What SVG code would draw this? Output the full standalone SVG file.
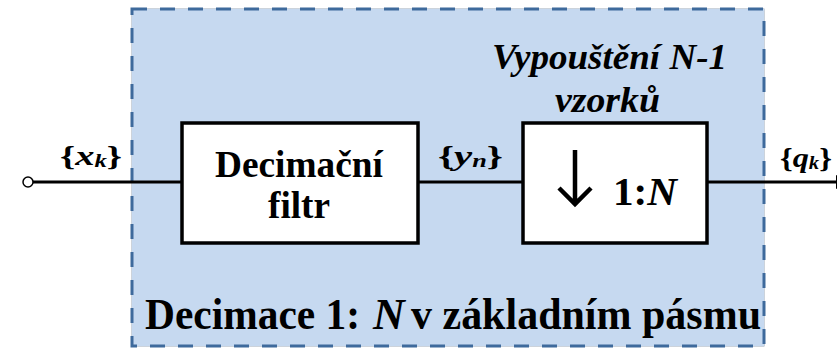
<svg xmlns="http://www.w3.org/2000/svg" width="837" height="348" viewBox="0 0 837 348">
  <style>
    .frame { fill: #c6d9f0; stroke: #3e6a9c; stroke-width: 3; stroke-dasharray: 15 13; }
    .frameEdge { fill: none; stroke: #9aa8b8; stroke-width: 1; }
    .block { fill: #ffffff; stroke: #000000; stroke-width: 3.5; }
    .wire { fill: none; stroke: #000000; stroke-width: 3; }
    .lbl { font-family: 'Liberation Serif', 'DejaVu Serif', serif; font-weight: 700; fill: #000000; }
    .it { font-style: italic; }
    .sub { font-style: italic; font-size: 18px; }
  </style>
  <defs>
    <marker id="head" markerWidth="12" markerHeight="14" refX="11" refY="7" orient="auto" markerUnits="userSpaceOnUse">
      <path d="M0,0 L12,7 L0,14 Z" fill="#000000"/>
    </marker>
  </defs>

  <!-- baseband decimation frame -->
  <g id="frame">
    <rect class="frameEdge" x="132" y="9" width="632" height="337"/>
    <rect class="frame" x="132" y="9" width="632" height="337"/>
    <text class="lbl" x="145" y="329" font-size="44" textLength="215" lengthAdjust="spacingAndGlyphs">Decimace 1:</text>
    <text class="lbl it" x="373" y="329" font-size="44">N</text>
    <text class="lbl" x="411" y="329" font-size="44" textLength="350" lengthAdjust="spacingAndGlyphs">v základním pásmu</text>
  </g>

  <!-- signal wires -->
  <g id="connectors">
    <line class="wire" x1="33" y1="182" x2="182" y2="182"/>
    <line class="wire" x1="418" y1="182" x2="523" y2="182"/>
    <line class="wire" x1="707" y1="182" x2="847" y2="182" marker-end="url(#head)"/>
  </g>

  <g id="input">
    <circle cx="28" cy="182" r="5" fill="#ffffff" stroke="#000000" stroke-width="1.5"/>
    <text class="lbl" x="60" y="165" font-size="28" textLength="62" lengthAdjust="spacingAndGlyphs">{<tspan class="it">x</tspan><tspan class="sub" dy="2">k</tspan><tspan dy="-2">}</tspan></text>
  </g>

  <g id="filter">
    <rect class="block" x="182" y="123" width="236" height="120"/>
    <text class="lbl" x="215" y="177" font-size="37" textLength="168" lengthAdjust="spacingAndGlyphs">Decimační</text>
    <text class="lbl" x="268" y="218" font-size="37" textLength="62" lengthAdjust="spacingAndGlyphs">filtr</text>
  </g>

  <g id="mid-signal">
    <text class="lbl" x="438" y="165" font-size="28" textLength="65" lengthAdjust="spacingAndGlyphs">{<tspan class="it">y</tspan><tspan class="sub" dy="2">n</tspan><tspan dy="-2">}</tspan></text>
  </g>

  <g id="downsampler">
    <rect class="block" x="523" y="123" width="184" height="120"/>
    <path d="M575,150 V203 M559,188 L575,204 L591,188" fill="none" stroke="#000000" stroke-width="4.5" stroke-linecap="butt" stroke-linejoin="miter"/>
    <text class="lbl" x="613" y="205" font-size="40" textLength="64" lengthAdjust="spacingAndGlyphs">1:<tspan class="it">N</tspan></text>
    <text class="lbl it" x="492" y="69" font-size="36" textLength="235" lengthAdjust="spacingAndGlyphs">Vypouštění N-1</text>
    <text class="lbl it" x="555" y="112" font-size="36" textLength="105" lengthAdjust="spacingAndGlyphs">vzorků</text>
  </g>

  <g id="output">
    <text class="lbl" x="780" y="167" font-size="28" textLength="52" lengthAdjust="spacingAndGlyphs">{<tspan class="it">q</tspan><tspan class="sub" dy="2">k</tspan><tspan dy="-2">}</tspan></text>
  </g>
</svg>
